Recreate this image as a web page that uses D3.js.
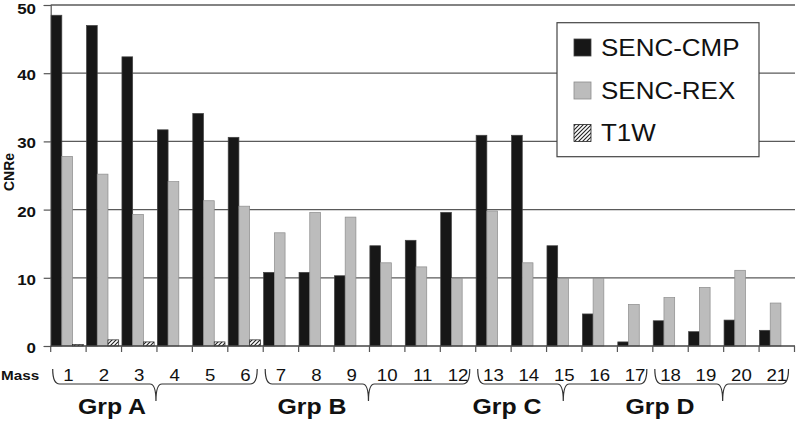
<!DOCTYPE html>
<html>
<head>
<meta charset="utf-8">
<script src="https://cdn.jsdelivr.net/npm/d3@7"></script>
<style>
  body { margin: 0; background: #fff; }
  text { font-family: "Liberation Sans", Arial, sans-serif; fill: #111; }
</style>
</head>
<body>
<script>
// CNRe per mass, three sequences
let masses = ['1','2','3','4','5','6','7','8','9','10','11','12','13','14','15','16','17','18','19','20','21'];
let seriesNames = ['SENC-CMP', 'SENC-REX', 'T1W'];
let cmp = [48.5, 47.0, 42.4, 31.7, 34.1, 30.6, 10.8, 10.8, 10.3, 14.7, 15.5, 19.6, 30.9, 30.9, 14.7, 4.7, 0.6, 3.7, 2.1, 3.8, 2.3];
let rex = [27.8, 25.2, 19.3, 24.1, 21.3, 20.5, 16.6, 19.6, 18.9, 12.2, 11.6, 9.9, 19.8, 12.2, 9.9, 9.9, 6.1, 7.1, 8.6, 11.1, 6.3];
let t1w = [0.2, 0.9, 0.6, 0, 0.6, 0.9, 0, 0, 0, 0, 0, 0, 0, 0, 0, 0, 0, 0, 0, 0, 0];
let yTicks = [0, 10, 20, 30, 40, 50];
let groupNames = ['Grp A', 'Grp B', 'Grp C', 'Grp D'];
let groupFirst = ['1', '7', '13', '18'];
let groupLast = ['6', '12', '17', '21'];

let w = 796;
let h = 422;
let sx = 1.13; // picture is a bit wide, so text is too
let grpLabelX = [112, 312, 507, 660];

let svg = d3.select('body').append('svg')
    .attr('width', w)
    .attr('height', h);

let defs = svg.append('defs');
let pat = defs.append('pattern')
    .attr('id', 'hatch')
    .attr('patternUnits', 'userSpaceOnUse')
    .attr('width', 4)
    .attr('height', 4);
pat.append('rect').attr('width', 4).attr('height', 4).attr('fill', '#fff');
pat.append('path')
    .attr('d', 'M-1,1 l2,-2 M0,4 l4,-4 M3,5 l2,-2')
    .attr('stroke', '#222')
    .attr('stroke-width', 1.1);

let x = d3.scaleBand().domain(masses).range([50.7, 794.5]);
let inner = d3.scaleBand().domain(seriesNames).range([0.4, x.bandwidth() * 0.92]);
let y = d3.scaleLinear().domain([0, 50]).range([346, 5]);
let fills = { 'SENC-CMP': '#171717', 'SENC-REX': '#bcbcbc', 'T1W': 'url(#hatch)' };
let strokes = { 'SENC-CMP': '#444', 'SENC-REX': '#8c8c8c', 'T1W': '#222' };

function stretchText(sel, tx, ty) {
    return sel.attr('transform', `translate(${tx},${ty}) scale(${sx},1)`);
}

// gridlines
svg.append('g').selectAll('line')
    .data(yTicks.filter(d => d > 0))
    .enter().append('line')
    .attr('x1', 50.7).attr('x2', 795)
    .attr('y1', d => y(d)).attr('y2', d => y(d))
    .attr('stroke', '#5a5a5a')
    .attr('stroke-width', 1.3);

// y axis
let yAxis = svg.append('g')
    .attr('transform', 'translate(50.7,0)')
    .call(d3.axisLeft(y).tickValues(yTicks).tickSize(7).tickFormat(''));
yAxis.select('.domain').attr('stroke', '#555').attr('stroke-width', 1.2);
yAxis.selectAll('.tick line').attr('stroke', '#555').attr('stroke-width', 1.2);

svg.append('g').selectAll('text')
    .data(yTicks)
    .enter().append('text')
    .text(d => d)
    .attr('text-anchor', 'end')
    .attr('font-size', 15)
    .attr('font-weight', 'bold')
    .each(function (d) { stretchText(d3.select(this), 36, Math.max(y(d) + 7, 14.2)); });

svg.append('text')
    .text('CNRe')
    .attr('text-anchor', 'middle')
    .attr('font-size', 14)
    .attr('font-weight', 'bold')
    .attr('transform', 'translate(13.5,172) rotate(-90) scale(1,1.1)');

// bars
let series = [cmp, rex, t1w];
let barData = [];
masses.forEach((m, i) => {
    seriesNames.forEach((s, j) => {
        barData.push({ mass: m, name: s, v: series[j][i] });
    });
});

svg.append('g').selectAll('rect')
    .data(barData.filter(d => d.v > 0))
    .enter().append('rect')
    .attr('x', d => x(d.mass) + inner(d.name))
    .attr('y', d => y(d.v))
    .attr('width', inner.bandwidth())
    .attr('height', d => y(0) - y(d.v))
    .attr('fill', d => fills[d.name])
    .attr('stroke', d => strokes[d.name])
    .attr('stroke-width', 0.7);

// x axis
let xAxis = svg.append('g')
    .attr('transform', `translate(0,${y(0)})`);
xAxis.append('line')
    .attr('x1', 50.7).attr('x2', 795)
    .attr('stroke', '#444').attr('stroke-width', 1.4);
xAxis.selectAll('.tk')
    .data(masses.concat(['end']))
    .enter().append('line')
    .attr('class', 'tk')
    .attr('x1', d => d === 'end' ? 794.5 : x(d))
    .attr('x2', d => d === 'end' ? 794.5 : x(d))
    .attr('y1', 0).attr('y2', 6)
    .attr('stroke', '#555').attr('stroke-width', 1.2);

svg.append('g').selectAll('text')
    .data(masses)
    .enter().append('text')
    .text(d => d)
    .attr('text-anchor', 'middle')
    .attr('font-size', 16.5)
    .each(function (d) { stretchText(d3.select(this), x(d) + x.bandwidth() / 2, 381); });

stretchText(svg.append('text')
    .text('Mass')
    .attr('font-size', 13.5)
    .attr('font-weight', 'bold'), 1, 380);

// group braces
let yt = 369, yb = 384, ytip = 401;
groupNames.forEach((g, i) => {
    let x0 = x(groupFirst[i]) + 2;
    let x1 = x(groupLast[i]) + x.bandwidth() - 6;
    let m = (x(groupFirst[i]) + x(groupLast[i]) + x.bandwidth()) / 2 - 1;
    let p = d3.path();
    p.moveTo(x0, yt);
    p.quadraticCurveTo(x0, yb, x0 + 7, yb);
    p.lineTo(m - 6, yb);
    p.quadraticCurveTo(m, yb, m, ytip);
    p.quadraticCurveTo(m, yb, m + 6, yb);
    p.lineTo(x1 - 7, yb);
    p.quadraticCurveTo(x1, yb, x1, yt);
    svg.append('path')
        .attr('d', p.toString())
        .attr('fill', 'none')
        .attr('stroke', '#333')
        .attr('stroke-width', 1.2);

    stretchText(svg.append('text')
        .text(g)
        .attr('text-anchor', 'middle')
        .attr('font-size', 22)
        .attr('font-weight', 'bold'), grpLabelX[i], 414);
});

// legend
let lg = svg.append('g');
lg.append('rect')
    .attr('x', 557).attr('y', 22.7)
    .attr('width', 202).attr('height', 134)
    .attr('fill', '#fff')
    .attr('stroke', '#444')
    .attr('stroke-width', 1.2);
let rowY = [47.5, 90.5, 133];
seriesNames.forEach((s, i) => {
    lg.append('rect')
        .attr('x', 574).attr('y', rowY[i] - 8.5)
        .attr('width', 17).attr('height', 17)
        .attr('fill', fills[s])
        .attr('stroke', strokes[s])
        .attr('stroke-width', 0.8);
    stretchText(lg.append('text')
        .text(s)
        .attr('font-size', 23), 601, rowY[i] + 8.3);
});
</script>
</body>
</html>
